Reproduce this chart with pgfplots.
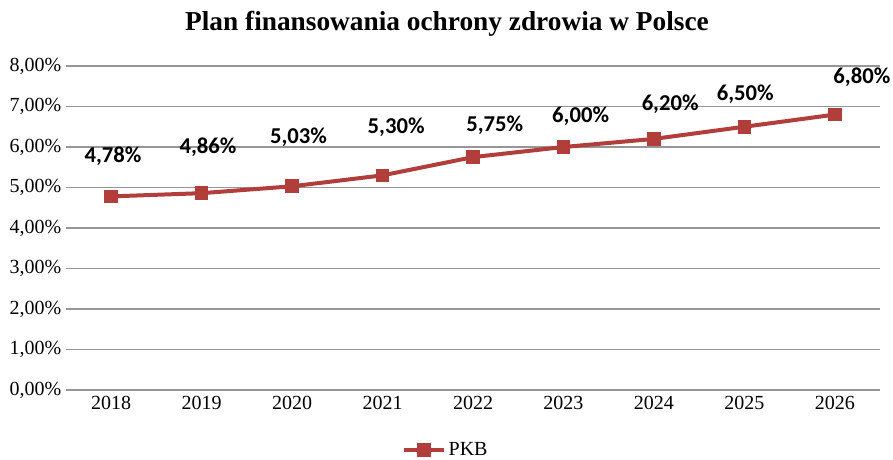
\documentclass[border=0pt]{standalone}
\usepackage{pgfplots}
\pgfplotsset{compat=1.18}
\usepackage{fontspec}
\setmainfont{Liberation Serif}
\newfontfamily\lblfont{Carlito}
\definecolor{linered}{RGB}{178,62,60}
\definecolor{gridgray}{RGB}{150,150,150}
\begin{document}
\begin{tikzpicture}
\useasboundingbox (-49.5pt,-52.5pt) rectangle (620.25pt,292.5pt);
\begin{axis}[
  scale only axis,
  width=610.5pt, height=243pt,
  xmin=-0.5, xmax=8.5, ymin=0, ymax=8,
  axis line style={draw=none},
  xtick={0,...,8},
  xticklabels={2018,2019,2020,2021,2022,2023,2024,2025,2026},
  ytick={0,1,...,8},
  yticklabel={\pgfmathprintnumber[fixed,fixed zerofill,precision=2,use comma,assume math mode=true]{\tick}\%},
  tick style={draw=none},
  ymajorgrids,
  grid style={gridgray, line width=1.1pt},
  tick label style={font=\fontsize{15pt}{17pt}\selectfont},
  yticklabel style={xshift=0pt},
  xticklabel style={yshift=-1pt},
  legend style={draw=none, at={(0.467,-0.185)}, anchor=center, font=\fontsize{15pt}{17pt}\selectfont, legend columns=1, inner sep=1pt},
  legend image code/.code={\draw[#1, line width=3pt] (0pt,0pt) -- (30pt,0pt); \draw[#1, mark repeat=1] plot coordinates {(15pt,0pt)};},
  clip=false,
]
\addplot[linered, line width=3pt, mark=square*, mark size=3.6pt, mark options={solid, fill=linered}]
  coordinates {(0,4.78) (1,4.86) (2,5.03) (3,5.30) (4,5.75) (5,6.00) (6,6.20) (7,6.50) (8,6.80)};
\addlegendentry{PKB}
\addplot[draw=none, mark=none, nodes near coords, point meta=explicit symbolic,
  every node near coord/.style={anchor=center, font=\lblfont\bfseries\fontsize{17pt}{19pt}\selectfont}]
  table[meta=label] {
x y label
0.02 5.78 4,78\%
1.07 6.00 4,86\%
2.07 6.25 5,03\%
3.15 6.49 5,30\%
4.24 6.54 5,75\%
5.19 6.77 6,00\%
6.18 7.06 6,20\%
7.01 7.31 6,50\%
8.30 7.73 6,80\%
};
\end{axis}
\node[font=\bfseries\fontsize{20.5pt}{24pt}\selectfont] at (285.75pt,274.5pt) {Plan finansowania ochrony zdrowia w Polsce};
\end{tikzpicture}
\end{document}
